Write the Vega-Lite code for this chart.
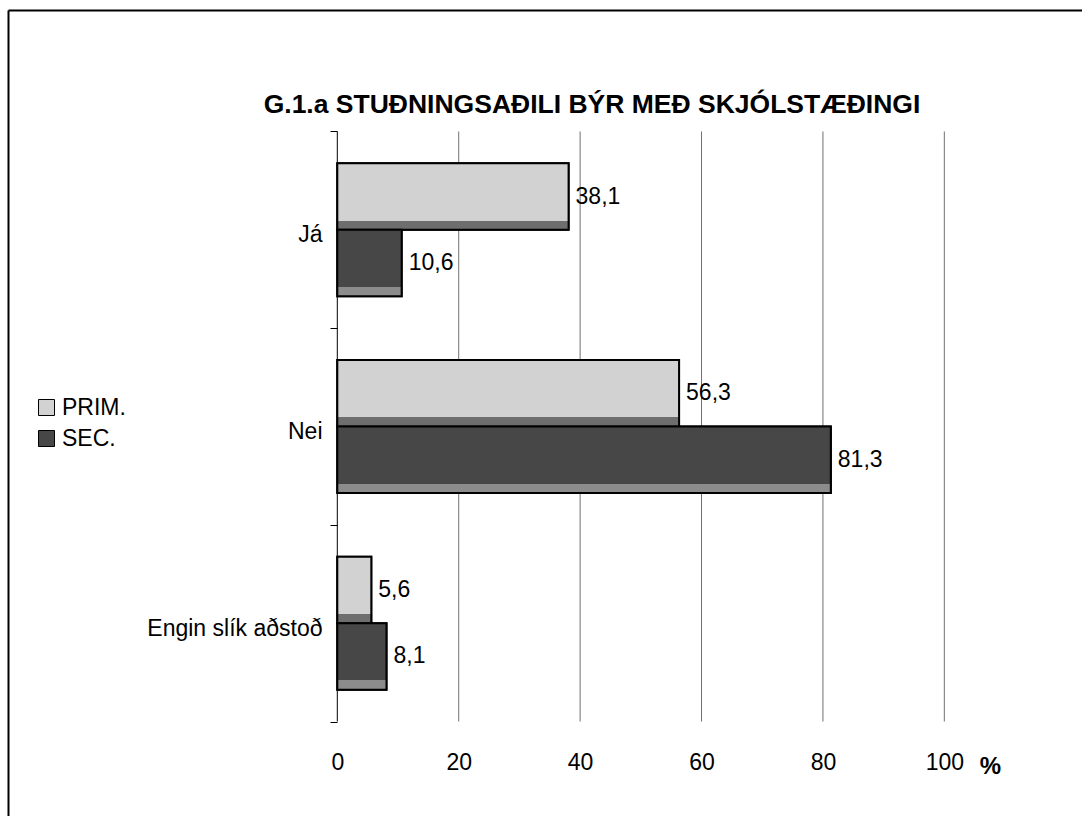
{
  "$schema": "https://vega.github.io/schema/vega-lite/v6.json",
  "width": 1074,
  "height": 806,
  "autosize": {"type": "none"},
  "padding": {"left": 8, "top": 10, "right": 0, "bottom": 0},
  "background": "white",
  "config": {
    "view": {"stroke": null},
    "font": "Liberation Sans",
    "locale": {"number": {"decimal": ",", "thousands": ".", "grouping": [3], "currency": ["", " kr."]}}
  },
  "title": {
    "text": "G.1.a STUÐNINGSAÐILI BÝR MEÐ SKJÓLSTÆÐINGI",
    "font": "Liberation Sans",
    "fontSize": 26.5,
    "fontWeight": "bold",
    "color": "black",
    "anchor": "middle",
    "frame": "group",
    "baseline": "middle",
    "offset": 0,
    "dx": 47,
    "dy": 132
  },
  "datasets": {
    "svor": [
      {"kat": "Já", "serie": "PRIM.", "pct": 38.1},
      {"kat": "Já", "serie": "SEC.", "pct": 10.6},
      {"kat": "Nei", "serie": "PRIM.", "pct": 56.3},
      {"kat": "Nei", "serie": "SEC.", "pct": 81.3},
      {"kat": "Engin slík aðstoð", "serie": "PRIM.", "pct": 5.6},
      {"kat": "Engin slík aðstoð", "serie": "SEC.", "pct": 8.1}
    ],
    "grid": [
      {"v": 0}, {"v": 20}, {"v": 40}, {"v": 60}, {"v": 80}, {"v": 100}
    ]
  },
  "resolve": {"axis": {"x": "independent", "y": "independent"}},
  "layer": [
    {
      "data": {"name": "grid"},
      "mark": {"type": "rule", "strokeWidth": 1},
      "encoding": {
        "x": {
          "field": "v",
          "type": "quantitative",
          "axis": {"orient": "top", "offset": 0, "title": null, "labels": false, "ticks": false, "grid": false, "domain": true, "domainColor": "black", "domainWidth": 2}
        },
        "y": {
          "datum": "Já",
          "type": "nominal",
          "bandPosition": 0,
          "axis": {"orient": "left", "offset": 0, "title": null, "labels": false, "ticks": false, "grid": false, "domain": true, "domainColor": "black", "domainWidth": 2}
        },
        "y2": {"datum": "Engin slík aðstoð", "bandPosition": 1},
        "color": {"condition": {"test": "datum.v === 0", "value": "black"}, "value": "#707070"}
      }
    },
    {
      "data": {"name": "svor"},
      "mark": {"type": "bar", "stroke": "black", "strokeWidth": 2},
      "encoding": {
        "y": {
          "field": "kat",
          "type": "nominal",
          "sort": null,
          "scale": {"domain": ["Já", "Nei", "Engin slík aðstoð"], "paddingInner": 0, "paddingOuter": 0.549, "align": 0.5625},
          "axis": {
            "orient": "left",
            "offset": -329,
            "title": null,
            "domain": false,
            "grid": false,
            "ticks": true,
            "tickBand": "extent",
            "tickSize": 7,
            "tickColor": "black",
            "tickWidth": 1,
            "labelFont": "Liberation Sans",
            "labelFontSize": 23,
            "labelColor": "black",
            "labelPadding": 8,
            "labelOffset": 5,
            "labelLimit": 400
          }
        },
        "yOffset": {
          "field": "serie",
          "type": "nominal",
          "sort": null,
          "scale": {"domain": ["PRIM.", "SEC."], "paddingInner": 0, "paddingOuter": 0.479}
        },
        "x": {
          "field": "pct",
          "type": "quantitative",
          "scale": {"domain": [-54.25, 122.68], "nice": false, "zero": false},
          "axis": {
            "orient": "bottom",
            "offset": -94.5,
            "values": [0, 20, 40, 60, 80, 100],
            "format": "d",
            "domain": false,
            "grid": false,
            "ticks": false,
            "tickSize": 0,
            "labelFont": "Liberation Sans",
            "labelFontSize": 23,
            "labelColor": "black",
            "labelPadding": 41,
            "labelBaseline": "middle",
            "labelFlush": false,
            "labelOverlap": false,
            "title": "%",
            "titleFont": "Liberation Sans",
            "titleFontSize": 24,
            "titleFontWeight": "bold",
            "titleColor": "black",
            "titleX": 982,
            "titleY": 44.5,
            "titleAlign": "center",
            "titleBaseline": "middle",
            "titleAngle": 0
          }
        },
        "x2": {"datum": 0},
        "color": {
          "field": "serie",
          "type": "nominal",
          "scale": {"domain": ["PRIM.", "SEC."], "range": ["#d2d2d2", "#474747"]},
          "legend": {
            "orient": "none",
            "legendX": 27,
            "legendY": 386,
            "title": null,
            "padding": 0,
            "direction": "vertical",
            "symbolType": "square",
            "symbolSize": 256,
            "symbolStrokeColor": "black",
            "symbolStrokeWidth": 1,
            "symbolOpacity": 1,
            "labelFont": "Liberation Sans",
            "labelFontSize": 23,
            "labelColor": "black",
            "labelOffset": 4,
            "rowPadding": 7
          }
        }
      }
    },
    {
      "data": {"name": "svor"},
      "mark": {"type": "bar", "stroke": "black", "strokeWidth": 2},
      "encoding": {
        "y": {"field": "kat", "type": "nominal", "sort": null, "axis": null},
        "yOffset": {"field": "serie", "type": "nominal", "sort": null},
        "x": {"field": "pct", "type": "quantitative", "axis": null},
        "x2": {"datum": 0},
        "fill": {
          "condition": {
            "test": "datum.serie === 'PRIM.'",
            "value": {
              "gradient": "linear", "x1": 0, "y1": 0, "x2": 0, "y2": 1,
              "stops": [
                {"offset": 0, "color": "#d2d2d2"},
                {"offset": 0.86, "color": "#d2d2d2"},
                {"offset": 0.86, "color": "#6e6e6e"},
                {"offset": 1, "color": "#6e6e6e"}
              ]
            }
          },
          "value": {
            "gradient": "linear", "x1": 0, "y1": 0, "x2": 0, "y2": 1,
            "stops": [
              {"offset": 0, "color": "#474747"},
              {"offset": 0.86, "color": "#474747"},
              {"offset": 0.86, "color": "#8c8c8c"},
              {"offset": 1, "color": "#8c8c8c"}
            ]
          }
        }
      }
    },
    {
      "data": {"name": "svor"},
      "mark": {"type": "text", "align": "left", "baseline": "middle", "dx": 7, "font": "Liberation Sans", "fontSize": 23, "color": "black"},
      "encoding": {
        "y": {"field": "kat", "type": "nominal", "sort": null, "axis": null},
        "yOffset": {"field": "serie", "type": "nominal", "sort": null},
        "x": {"field": "pct", "type": "quantitative", "axis": null},
        "text": {"field": "pct", "type": "quantitative", "format": ".1f"}
      }
    }
  ]
}
